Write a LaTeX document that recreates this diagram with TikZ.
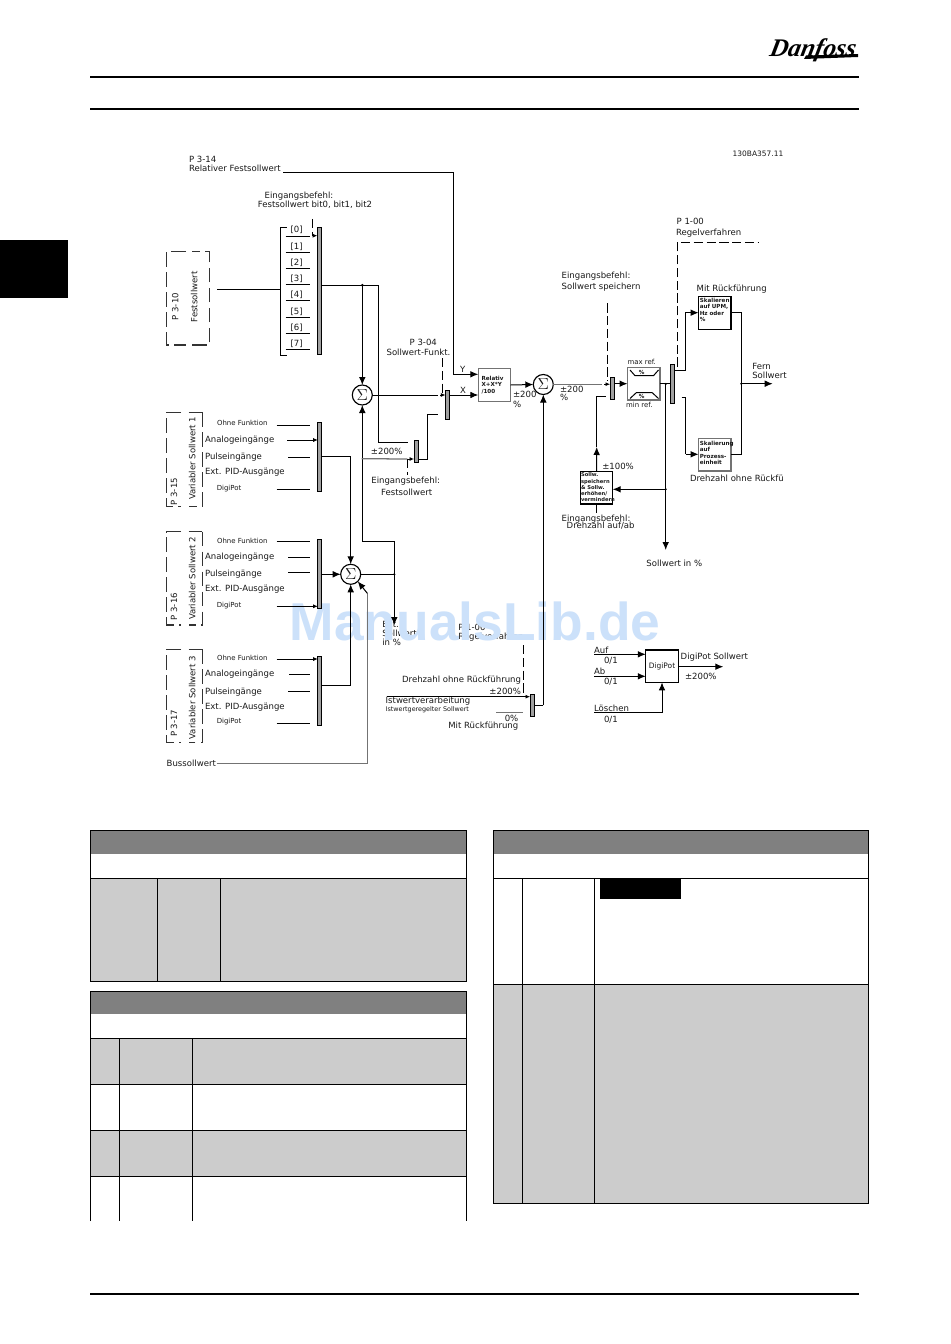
\documentclass[tikz,border=0pt]{standalone}
\usepackage{fontspec}
\setmainfont{DejaVu Sans}
\newfontfamily\wmfont{Liberation Sans}
\newfontfamily\logofont{Liberation Serif}
\usetikzlibrary{arrows.meta,positioning}
\definecolor{wmblue}{RGB}{204,225,250}
\definecolor{hdrgray}{RGB}{128,128,128}
\definecolor{rowgray}{RGB}{204,204,204}
\definecolor{barfill}{RGB}{160,160,160}
\definecolor{ink}{RGB}{25,25,25}
\tikzset{
  x=0.75pt,y=-0.75pt,
  every node/.style={inner sep=0pt,outer sep=0pt,text=ink},
  wire/.style={line width=0.75pt,draw=black},
  graywire/.style={line width=0.95pt,draw=black!55},
  arr/.style={wire,-{Latex[length=6pt,width=5pt]}},
  sarr/.style={wire,-{Latex[length=3.5pt,width=3pt]}},
  dashwire/.style={line width=0.75pt,draw=black,dash pattern=on 7pt off 2.6pt},
  grp/.style={line width=0.8pt,draw=black!80,dash pattern=on 11pt off 4pt},
  lab/.style={font=\fontsize{6.4}{7}\selectfont,anchor=west},
  labr/.style={font=\fontsize{6.4}{7}\selectfont,anchor=east},
  labc/.style={font=\fontsize{6.4}{7}\selectfont,anchor=center},
  small/.style={font=\fontsize{5.2}{6}\selectfont,anchor=center},
  tiny/.style={font=\fontsize{4.8}{5.5}\selectfont,anchor=west},
  rot/.style={font=\fontsize{6.4}{7}\selectfont,rotate=90,anchor=center},
  barbox/.style={draw=black,line width=0.6pt,fill=barfill,minimum width=3.2pt},
  sumbox/.style={circle,draw=black,line width=0.85pt,fill=white,minimum size=15pt,font=\fontsize{12}{12}\selectfont},
  blockb/.style={draw=black,line width=0.8pt,fill=white,minimum width=24.3pt,minimum height=24.3pt},
  blockg/.style={draw=black!55,line width=0.95pt,fill=white,minimum width=24.3pt,minimum height=24.3pt},
  boxtext/.style={font=\fontsize{4.2}{4.9}\selectfont\bfseries,align=left,anchor=north west},
  rule/.style={line width=1.9pt,draw=black},
  tl/.style={line width=0.75pt,draw=black},
}
\begin{document}
\begin{tikzpicture}
\useasboundingbox (0,0) rectangle (950,1344);
\fill[white] (0,0) rectangle (950,1344);
% page furniture
\draw[rule] (90,77) -- (859,77);
\draw[rule] (90,109) -- (859,109);
\draw[rule] (90,1294) -- (859,1294);
\fill[black] (0,240) rectangle (68,298);
\node (logo) [anchor=center,xslant=0.2,font=\logofont\fontsize{19}{19}\selectfont\bfseries\itshape,text=black] at (813,50) {Danfoss};
\fill[black] (806,55.5) -- (858,54) -- (858,57) -- (804,59) -- cycle;
% tables
\fill[hdrgray] (90,830) rectangle (466,854);
\fill[rowgray] (90,878) rectangle (466,981);
\draw[tl] (90.5,830) rectangle (466,981);
\draw[tl] (90.5,878) -- (466,878) (157,878) -- (157,981) (220,878) -- (220,981);
\fill[hdrgray] (90,991) rectangle (466,1014);
\fill[rowgray] (90,1038) rectangle (466,1084);
\fill[rowgray] (90,1130) rectangle (466,1176);
\draw[tl] (90.5,1221) -- (90.5,991) -- (466,991) -- (466,1221);
\draw[tl] (90.5,1038) -- (466,1038) (90.5,1084) -- (466,1084) (90.5,1130) -- (466,1130) (90.5,1176) -- (466,1176);
\draw[tl] (119,1038) -- (119,1221) (192,1038) -- (192,1221);
\fill[hdrgray] (493.5,830) rectangle (868,854);
\fill[rowgray] (493.5,984) rectangle (868,1203);
\draw[tl] (493.5,830) rectangle (868,1203);
\draw[tl] (493.5,878) -- (868,878) (493.5,984) -- (868,984) (522,878) -- (522,1203) (594,878) -- (594,1203);
\fill[black] (600,879) rectangle (681,899);
% labels that the watermark covers
\node[lab] (extA) at (382.3,624.3) {Ext.};
\node[lab] (extB) at (382.3,633.3) {Sollwert};
\node[lab] (extC) at (382.3,642.3) {in \%};
\node[lab] (pA) at (458.3,627.3) {P 1-00};
\node[lab] (pB) at (458.3,636.7) {Regelverfahren};
\node (wm) [anchor=center,font=\wmfont\fontsize{40}{40}\selectfont\bfseries,text=wmblue] at (475,621) {ManualsLib.de};
% texts, top
\node[labr,font=\fontsize{5.6}{6}\selectfont] (idn) at (783.3,154) {130BA357.11};
\node[lab] (p314) at (189,159) {P 3-14};
\node[lab] (relf) at (189,168) {Relativer Festsollwert};
\node[labc] (eb1) at (299,196) {Eingangsbefehl:};
\node[labc] (eb2) at (315,205) {Festsollwert bit0, bit1, bit2};
\node[labc] (n0) at (296.7,230) {[0]};
\node[labc] (n1) at (296.7,246.7) {[1]};
\node[labc] (n2) at (296.7,262.7) {[2]};
\node[labc] (n3) at (296.7,279.3) {[3]};
\node[labc] (n4) at (296.7,295) {[4]};
\node[labc] (n5) at (296.7,311.7) {[5]};
\node[labc] (n6) at (296.7,327.7) {[6]};
\node[labc] (n7) at (296.7,344.3) {[7]};
\node[rot] (p310) at (175.3,306.7) {P 3-10};
\node[rot] (fest) at (194.3,296.7) {Festsollwert};
\node[labc] (p304) at (423.3,342.3) {P 3-04};
\node[labc] (sfk) at (418.5,352.3) {Sollwert-Funkt.};
\node[lab] (lY) at (460,369) {Y};
\node[lab] (lX) at (460,390) {X};
\node[labc] (pm200a) at (386.7,451.7) {±200\%};
\node[labc] (eb3) at (405.7,481) {Eingangsbefehl:};
\node[labc] (eb4) at (406.7,492.3) {Festsollwert};
% variable groups
\draw[grp] (202.3,412.3) -- (202.3,506.7) -- (188.5,506.7);
\draw[grp] (188.5,412.3) -- (202.3,412.3);
\draw[grp] (181,412.3) -- (166.7,412.3) -- (166.7,506.7) -- (181,506.7);
\draw[grp] (202.3,531.7) -- (202.3,625) -- (188.5,625);
\draw[grp] (188.5,531.7) -- (202.3,531.7);
\draw[grp] (181,531.7) -- (166.7,531.7) -- (166.7,625) -- (181,625);
\draw[grp] (202.3,649.3) -- (202.3,742.3) -- (188.5,742.3);
\draw[grp] (188.5,649.3) -- (202.3,649.3);
\draw[grp] (181,649.3) -- (166.7,649.3) -- (166.7,742.3) -- (181,742.3);
\draw[grp] (186,251.7) -- (166.7,251.7) -- (166.7,345) -- (186,345);
\draw[grp] (192,345) -- (209.3,345) -- (209.3,251.7) -- (192,251.7);
\node[rot] (p315) at (174,491.7) {P 3-15};
\node[rot] (v1) at (192.3,458.3) {Variabler Sollwert 1};
\node[rot] (p316) at (174,606.7) {P 3-16};
\node[rot] (v2) at (192.3,578.3) {Variabler Sollwert 2};
\node[rot] (p317) at (174,723.3) {P 3-17};
\node[rot] (v3) at (192.3,697.7) {Variabler Sollwert 3};
% lists
\node[small] (o1) at (242.3,423.3) {Ohne Funktion};
\node[lab] (a1) at (205,440) {Analogeingänge};
\node[lab] (u1) at (205,457.3) {Pulseingänge};
\node[lab] (e1) at (205,472.3) {Ext. PID-Ausgänge};
\node[small] (d1) at (229,489) {DigiPot};
\node[small] (o2) at (242.3,540.7) {Ohne Funktion};
\node[lab] (a2) at (205,557.3) {Analogeingänge};
\node[lab] (u2) at (205,574) {Pulseingänge};
\node[lab] (e2) at (205,589.3) {Ext. PID-Ausgänge};
\node[small] (d2) at (229,606) {DigiPot};
\node[small] (o3) at (242.3,657.7) {Ohne Funktion};
\node[lab] (a3) at (205,674.3) {Analogeingänge};
\node[lab] (u3) at (205,691.7) {Pulseingänge};
\node[lab] (e3) at (205,707) {Ext. PID-Ausgänge};
\node[small] (d3) at (229,722) {DigiPot};
\node[lab] (buss) at (166.7,763.3) {Bussollwert};
% feedback texts
\node[labr] (dor) at (521,680.3) {Drehzahl ohne Rückführung};
\node[labr] (pm200b) at (521,691) {±200\%};
\node[lab] (ist) at (385.7,701.3) {Istwertverarbeitung};
\node[tiny] (ist2) at (385.7,710) {Istwertgeregelter Sollwert};
\node[labr] (z0) at (518.3,718) {0\%};
\node[labr] (mr) at (518.3,726.3) {Mit Rückführung};
% right texts
\node[lab] (pm200c) at (513,394.7) {±200};
\node[lab] (pct1) at (513,404) {\%};
\node[lab] (pm200d) at (560,389.3) {±200};
\node[lab] (pct2) at (560,397.7) {\%};
\node[lab] (eb5) at (561.7,276) {Eingangsbefehl:};
\node[lab] (eb6) at (561.7,286.7) {Sollwert speichern};
\node[small] (maxr) at (641.7,362.3) {max ref.};
\node[small] (minr) at (639.3,405) {min ref.};
\node[lab] (p100) at (676.7,221.7) {P 1-00};
\node[lab] (regv) at (676,232.7) {Regelverfahren};
\node[lab] (mitr) at (696.7,288.7) {Mit Rückführung};
\node[lab] (ohne) at (690,478.3) {Drehzahl ohne Rückfü};
\node[lab] (fern) at (752.3,366.7) {Fern};
\node[lab] (fsoll) at (752.3,375.7) {Sollwert};
\node[lab] (pm100) at (602.3,466) {±100\%};
\node[lab] (eb7) at (561.7,519) {Eingangsbefehl:};
\node[lab] (eb8) at (566.7,526) {Drehzahl auf/ab};
\node[labc] (sip) at (674.3,563.3) {Sollwert in \%};
% digipot texts
\node[lab] (auf) at (594,650) {Auf};
\node[lab] (auf01) at (604,661) {0/1};
\node[lab] (ab) at (594,671.7) {Ab};
\node[lab] (ab01) at (604,681.7) {0/1};
\node[lab] (loe) at (594,708.7) {Löschen};
\node[lab] (loe01) at (604,719.3) {0/1};
\node[lab] (dps) at (680.7,656.7) {DigiPot Sollwert};
\node[lab] (dpp) at (685,676.7) {±200\%};
% bars
\node[barbox,minimum height=95pt] (bar1) at (319.5,291) {};
\node[barbox,minimum height=22pt] (bar2) at (447.7,404.6) {};
\node[barbox,minimum height=17pt] (bar3) at (416.3,451.3) {};
\node[barbox,minimum height=52pt] (barV1) at (319.5,457) {};
\node[barbox,minimum height=52pt] (barV2) at (319.5,573.7) {};
\node[barbox,minimum height=52pt] (barV3) at (319.5,691.2) {};
\node[barbox,minimum height=16.8pt] (bar4) at (532.3,705.5) {};
\node[barbox,minimum height=16.5pt] (bar5) at (612.3,388.7) {};
\node[barbox,minimum height=29.2pt] (bar6) at (672.7,383.8) {};
% sums
\node[sumbox] (s1) at (362.3,395) {$\Sigma$};
\node[sumbox] (s2) at (350.7,574.3) {$\Sigma$};
\node[sumbox] (s3) at (543.3,384.5) {$\Sigma$};
% blocks
\node[blockg] (rel) at (494.5,385) {};
\node[boxtext,anchor=west] (relt) at (481.5,385) {Relativ\\X+X*Y\\/100};
\node[blockg] (mm) at (643.7,383.7) {};
\node[blockb] (sk1) at (714.8,313) {};
\node[boxtext,text width=22pt] (sk1t) at (699.8,298) {Skalieren\\auf UPM,\\Hz oder\\\%};
\node[blockg] (sk2) at (714.8,454.8) {};
\node[boxtext] (sk2t) at (699.8,441) {Skalierung\\auf\\Prozess-\\einheit};
\node[blockb] (spe) at (596.5,487.8) {};
\node[boxtext,font=\fontsize{3.9}{4.7}\selectfont\bfseries] (spet) at (581,472.8) {Sollw.\\speichern\\\& Sollw.\\erhöhen/\\vermindern};
\node[blockb] (dp) at (662,666.2) {};
\node[labc,font=\fontsize{5.6}{6}\selectfont] (dpt) at (662,666.2) {DigiPot};
% min/max glyph
\draw[wire] (630,370) -- (635,375.7) -- (653.5,375.7) -- (658.5,370);
\draw[wire] (630,398.5) -- (636.5,392.5) -- (652,392.5) -- (658.5,398.5);
\node[boxtext,anchor=center] (mmA) at (641.7,372.2) {\%};
\node[boxtext,anchor=center] (mmB) at (641.7,396) {\%};
% coordinates for connector corners
\coordinate (cY0) at (283,172.3);
\coordinate (cY1) at (453,172.3);
\coordinate (cY2) at (453,374.3);
\coordinate (inA) at (217.3,289.3);
\coordinate (brk) at (280.7,289.3);
\coordinate (brT) at (286.7,227.7);
\coordinate (brB) at (286.7,355.3);
\coordinate (b1o) at (321.7,285.3);
\coordinate (dot1) at (362.3,285.3);
\coordinate (cA) at (378.7,285.3);
\coordinate (cB) at (378.7,442);
\coordinate (cC) at (408.3,442);
\coordinate (d1a) at (312,219);
\coordinate (d1b) at (312,235.7);
\coordinate (d2a) at (442,358);
\coordinate (d2b) at (442,393);
\coordinate (sgap) at (438,395);
\coordinate (sgap2) at (440,395);
\coordinate (b3o) at (418.3,459.3);
\coordinate (b3a) at (427.7,459.3);
\coordinate (b3b) at (427.7,414.7);
\coordinate (b3c) at (438.3,414.7);
\coordinate (g200) at (361.7,458.7);
\coordinate (d3a) at (407.3,459);
\coordinate (d3b) at (407.3,475);
\coordinate (v1o) at (350.7,456);
\coordinate (ext1) at (362.3,541.7);
\coordinate (ext2) at (394.3,541.7);
\coordinate (ext3) at (394.3,625);
\coordinate (extdot) at (394.3,574.3);
\coordinate (v3o) at (321.7,685);
\coordinate (v3p) at (350.7,685);
\coordinate (bus0) at (216.7,763.3);
\coordinate (bus1) at (367.3,763.3);
\coordinate (bus2) at (367.3,593.3);
% connectors
\draw[wire] (cY0) -- (cY1) -- (cY2);
\draw[arr] (cY2) -- (rel.west |- cY2);
\draw[wire] (inA) -- (brk);
\draw[wire] (brT) -- (brk |- brT) -- (brk |- brB) -- (brB);
\foreach \nm/\yy in {l0/236.3,l1/252.3,l2/268.3,l3/284.7,l4/301,l5/317,l6/333.3,l7/349.3}{
  \coordinate (\nm a) at (285.7,\yy);
  \coordinate (\nm b) at (310,\yy);
  \draw[wire] (\nm a) -- (\nm b);
}
\draw[dashwire] (d1a) -- (d1b);
\draw[sarr] (d1b) -- (bar1.west |- d1b);
\draw[wire] (bar1.east |- b1o) -- (cA) -- (cB) -- (cC);
\fill[black] (dot1) circle (1.5);
\draw[arr] (dot1) -- (s1.north);
\draw[arr] (ext1) -- (s1.south);
\draw[wire] (ext1) -- (ext2) -- (extdot);
\draw[arr] (extdot) -- (ext3);
\draw[wire] (s2.east) -- (extdot);
\fill[black] (extdot) circle (1.2);
\draw[wire] (s1.east) -- (sgap);
\draw[sarr] (sgap2) -- (bar2.west |- sgap2);
\draw[dashwire] (d2a) -- (d2b);
\draw[wire] (bar3.east |- b3o) -- (b3a) -- (b3b) -- (b3c);
\draw[graywire] (g200) -- (d3a);
\draw[sarr] (d3a) -- (bar3.west |- d3a);
\draw[dashwire] (d3a) -- (d3b);
\draw[arr] (bar2.east |- s1) -- (rel.west |- s1);
\draw[arr] (rel.east) -- (s3.west);
% inputs of the variable groups
\foreach \nm/\xa/\yy/\arrw in {
  va/276.7/425/0, vb/287.3/440/1, vc/288.3/457.3/0, vd/276.7/489.7/0,
  ve/276.7/541/0, vf/288.3/557.3/0, vg/288.3/572.7/0, vh/276.7/606.3/1,
  vi/276.7/659/1, vj/289/674.3/0, vk/288.3/691/0, vl/276.7/723.3/0}{
  \coordinate (\nm) at (\xa,\yy);
  \ifnum\arrw=1
    \draw[sarr] (\nm) -- (317.9,\yy);
  \else
    \coordinate (\nm e) at (310,\yy);
    \draw[wire] (\nm) -- (\nm e);
  \fi
}
\draw[wire] (barV1.east |- v1o) -- (v1o);
\draw[arr] (v1o) -- (s2.north);
\draw[arr] (barV2.east |- s2) -- (s2.west);
\draw[wire] (v3o) -- (v3p);
\draw[arr] (v3p) -- (s2.south);
\draw[graywire] (bus0) -- (bus1) -- (bus2);
\draw[arr] (bus2) -- (s2.south east);
% feedback
\coordinate (istL) at (386.7,696.7);
\coordinate (d4a) at (523.3,645);
\coordinate (d4b) at (523.3,695);
\coordinate (b4o) at (534.3,705.3);
\coordinate (b4p) at (543.3,705.3);
\coordinate (g0a) at (496,712.7);
\coordinate (g0b) at (522.7,712.7);
\draw[sarr] (istL) -- (bar4.west |- istL);
\draw[dashwire] (d4a) -- (d4b);
\draw[graywire] (g0a) -- (g0b);
\draw[wire] (b4o) -- (b4p);
\draw[arr] (b4p) -- (s3.south);
% right part
\coordinate (s3g) at (601.7,384.2);
\coordinate (s3h) at (604,384.2);
\coordinate (d5a) at (607.3,303.3);
\coordinate (d5b) at (607.3,381);
\coordinate (dotv) at (665.7,384);
\coordinate (dotw) at (665.7,489.3);
\coordinate (vend) at (665.7,550);
\coordinate (upA) at (596.7,396);
\coordinate (upB) at (605.7,396);
\coordinate (upM) at (596.7,447);
\coordinate (d6b) at (596.5,515);
\coordinate (d7a) at (677.3,366.7);
\coordinate (d7b) at (677.3,242.3);
\coordinate (d7c) at (759.3,242.3);
\coordinate (t1) at (685.3,370);
\coordinate (t2) at (685.3,312.7);
\coordinate (u1a) at (681.7,397);
\coordinate (u1b) at (685.7,397);
\coordinate (u2a) at (685.7,454.3);
\coordinate (r1) at (741.3,312.7);
\coordinate (r2) at (741.3,454.3);
\coordinate (rout) at (741.3,383.7);
\coordinate (rend) at (772.7,383.7);
\draw[graywire] (s3.east |- s3g) -- (s3g);
\draw[sarr] (s3h) -- (bar5.west |- s3h);
\draw[dashwire] (d5a) -- (d5b);
\draw[arr] (bar5.east |- mm) -- (mm.west);
\draw[wire] (mm.east) -- (bar6.west |- mm);
\draw[wire] (dotv) -- (dotw);
\draw[arr] (dotw) -- (vend);
\fill[black] (dotw) circle (1.2);
\fill[black] (dotv) circle (1.2);
\draw[arr] (dotw) -- (spe.east |- dotw);
\draw[wire] (upB) -- (upA) -- (upM);
\draw[arr] (spe.north) -- (upM);
\draw[dashwire] (spe.south) -- (d6b);
\draw[dashwire] (d7a) -- (d7b) -- (d7c);
\draw[wire] (bar6.east |- t1) -- (t1) -- (t2);
\draw[arr] (t2) -- (sk1.west |- t2);
\draw[wire] (u1a) -- (u1b) -- (u2a);
\draw[arr] (u2a) -- (sk2.west |- u2a);
\draw[wire] (sk1.east |- r1) -- (r1) -- (r2) -- (sk2.east |- r2);
\draw[arr] (rout) -- (rend);
\fill[black] (rout) circle (1.2);
% digipot connectors
\coordinate (aufL) at (594,654.3);
\coordinate (abL) at (594,676.3);
\coordinate (loeL) at (594,712.7);
\coordinate (loeM) at (662,712.7);
\coordinate (dpEnd) at (723.3,666.7);
\draw[arr] (aufL) -- (dp.west |- aufL);
\draw[arr] (abL) -- (dp.west |- abL);
\draw[wire] (loeL) -- (loeM);
\draw[arr] (loeM) -- (dp.south);
\draw[arr] (dp.east |- dpEnd) -- (dpEnd);
\end{tikzpicture}
\end{document}
